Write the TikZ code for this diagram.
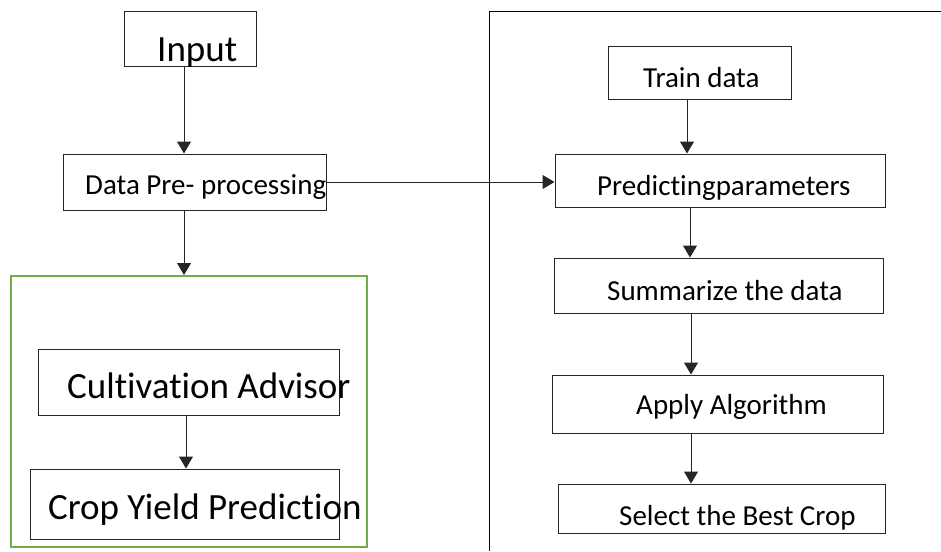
\documentclass[tikz,border=0pt]{standalone}
\usepackage{fontspec}
\setmainfont[Ligatures=NoCommon]{Carlito}
\usetikzlibrary{arrows.meta,calc}
\definecolor{boxgreen}{HTML}{70AD47}
\definecolor{boxline}{HTML}{262626}
\begin{document}
\begin{tikzpicture}[x=1pt,y=-1pt,
  box/.style={draw=boxline,line width=1pt,rectangle,inner sep=0pt,fill=none},
  greenbox/.style={draw=boxgreen,line width=2pt,rectangle,inner sep=0pt},
  lbl/.style={inner sep=0pt,anchor=base west,font=\fontsize{29}{34}\selectfont},
  biglbl/.style={inner sep=0pt,anchor=base west,font=\fontsize{37}{44}\selectfont},
  arr/.style={draw=boxline,line width=1pt,-{Triangle[length=12pt,width=14pt]}},
  plain/.style={draw=black,line width=1pt}]
\useasboundingbox (0,0) rectangle (941,551);
% boxes
\node[greenbox,minimum width=356pt,minimum height=271pt] (green) at (189,411.5) {};
\node[box,minimum width=132pt,minimum height=54pt] (input) at (190,39) {};
\node[box,minimum width=263pt,minimum height=56pt] (data) at (194.5,182) {};
\node[box,minimum width=301pt,minimum height=66pt] (cult) at (188.5,382) {};
\node[box,minimum width=309pt,minimum height=70pt] (crop) at (184.5,504) {};
\node[box,minimum width=183pt,minimum height=52pt] (train) at (699.5,73) {};
\node[box,minimum width=330pt,minimum height=53pt] (pred) at (720,180.5) {};
\node[box,minimum width=329pt,minimum height=55pt] (summ) at (718.5,285.5) {};
\node[box,minimum width=331pt,minimum height=58pt] (apply) at (717.5,404) {};
\node[box,minimum width=327pt,minimum height=49pt] (select) at (721.5,508.5) {};
% labels
\node[biglbl] (tinput) at (157,61) {Input};
\node[lbl] (tdata) at (85,194) {Data Pre- processing};
\node[biglbl] (tcult) at (67,398) {Cultivation Advisor};
\node[biglbl] (tcrop) at (48,519) {Crop Yield Prediction};
\node[lbl] (ttrain) at (643,87) {Train data};
\node[lbl] (tpred) at (597,195) {Predictingparameters};
\node[lbl] (tsumm) at (607,300) {Summarize the data};
\node[lbl] (tapply) at (636,414) {Apply Algorithm};
\node[lbl] (tselect) at (619,525) {Select the Best Crop};
% right panel border
\coordinate (pbot) at (489,551);
\coordinate (pcorner) at (489,12);
\coordinate (pright) at (941,12);
\draw[plain] (pbot) -- (pcorner) -- (pright);
% connectors
\draw[arr] ([xshift=-6pt]input.south) -- ([xshift=-6pt]input.south |- data.north);
\draw[arr] ([xshift=-10.5pt]data.south) -- ([xshift=-10.5pt]data.south |- green.north);
\draw[arr] (data.east) -- (data.east -| pred.west);
\draw[arr] ([xshift=-2.5pt]cult.south) -- ([xshift=-2.5pt]cult.south |- crop.north);
\draw[arr] ([xshift=-12.5pt]train.south) -- ([xshift=-12.5pt]train.south |- pred.north);
\draw[arr] ([xshift=-30pt]pred.south) -- ([xshift=-30pt]pred.south |- summ.north);
\draw[arr] ([xshift=-27.5pt]summ.south) -- ([xshift=-27.5pt]summ.south |- apply.north);
\draw[arr] ([xshift=-26.5pt]apply.south) -- ([xshift=-26.5pt]apply.south |- select.north);
\end{tikzpicture}
\end{document}
